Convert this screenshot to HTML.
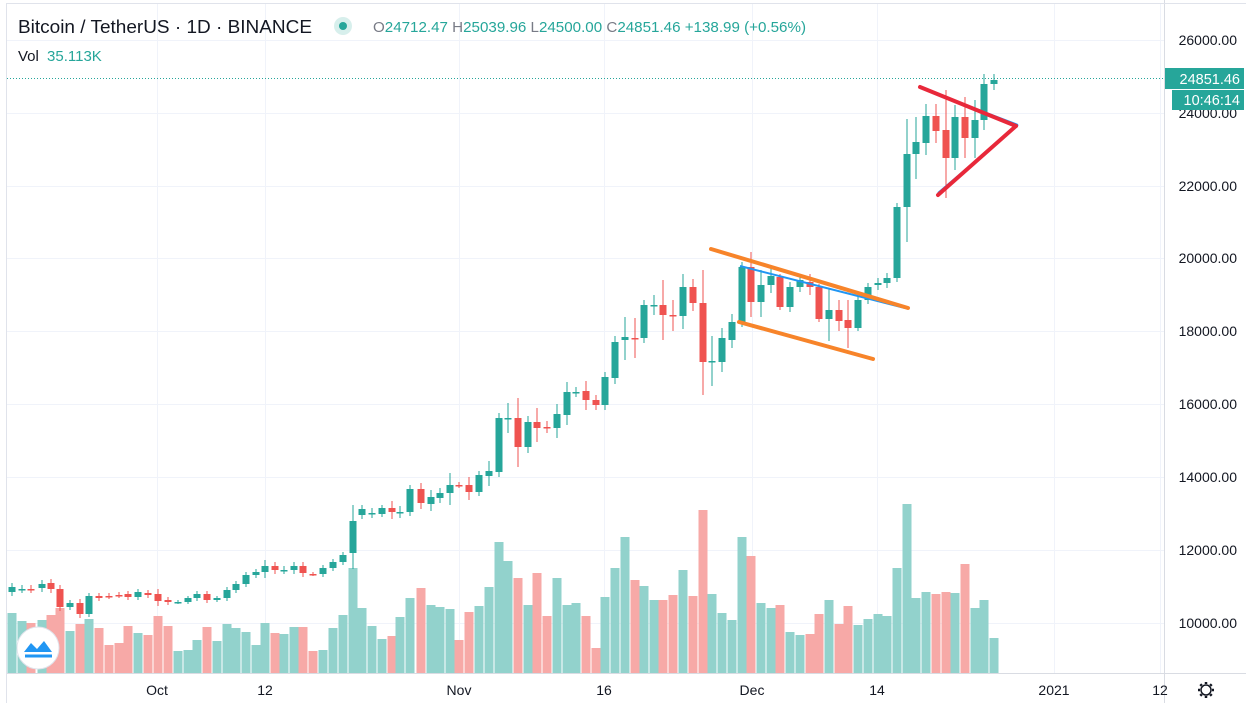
<!DOCTYPE html>
<html><head><meta charset="utf-8"><style>
body{margin:0;background:#fff;width:1246px;height:703px;overflow:hidden;font-family:"Liberation Sans","DejaVu Sans",sans-serif}
svg{position:absolute;left:0;top:0}
</style></head><body>
<svg id="s" width="1246" height="703" xmlns="http://www.w3.org/2000/svg">
<rect x="0" y="0" width="1246" height="703" fill="#fff"/>
<g id="grid" stroke="#f0f3fa" stroke-width="1"></g>
<g id="vol"></g>
<g id="cdl"></g>
<line x1="7" y1="78.5" x2="1164" y2="78.5" stroke="#26a69a" stroke-dasharray="1,2"/>
<line x1="1164.5" y1="0" x2="1164.5" y2="703" stroke="#d9dce3"/>
<line x1="7" y1="673.5" x2="1246" y2="673.5" stroke="#d9dce3"/>
<line x1="6.5" y1="3" x2="6.5" y2="703" stroke="#e0e3eb"/>
<line x1="6" y1="3.5" x2="1246" y2="3.5" stroke="#e0e3eb"/>
<!-- patterns -->
<line x1="740" y1="266" x2="905" y2="308" stroke="#2196f3" stroke-width="2"/>
<line x1="711" y1="249" x2="908" y2="308" stroke="#f7842a" stroke-width="4" stroke-linecap="round"/>
<line x1="739" y1="322" x2="873" y2="359" stroke="#f7842a" stroke-width="4" stroke-linecap="round"/>
<line x1="921" y1="88" x2="1018" y2="125" stroke="#2196f3" stroke-width="2"/>
<line x1="938" y1="193" x2="1018" y2="125" stroke="#2196f3" stroke-width="2"/>
<line x1="920" y1="87" x2="1016" y2="126" stroke="#e8283a" stroke-width="4" stroke-linecap="round"/>
<line x1="938" y1="195" x2="1016" y2="126" stroke="#e8283a" stroke-width="4" stroke-linecap="round"/>
<!-- header -->
<text x="18" y="33" font-size="18" fill="#131722" textLength="294" lengthAdjust="spacingAndGlyphs">Bitcoin / TetherUS · 1D · BINANCE</text>
<circle cx="343" cy="26" r="9" fill="#d7efec"/><circle cx="343" cy="26" r="4" fill="#26a69a"/>
<text x="373" y="32" font-size="15" fill="#26a69a" textLength="433" lengthAdjust="spacingAndGlyphs"><tspan fill="#787b86">O</tspan>24712.47 <tspan fill="#787b86">H</tspan>25039.96 <tspan fill="#787b86">L</tspan>24500.00 <tspan fill="#787b86">C</tspan>24851.46 +138.99 (+0.56%)</text>
<text x="18" y="61" font-size="15" fill="#131722">Vol <tspan fill="#26a69a" dx="4">35.113K</tspan></text>
<!-- right axis -->
<g font-size="14" fill="#131722" text-anchor="end" id="ax"></g>
<rect x="1165" y="68" width="79" height="21" fill="#26a69a"/>
<text x="1240" y="84" font-size="14.5" fill="#fff" text-anchor="end">24851.46</text>
<rect x="1172" y="90" width="72" height="20" fill="#26a69a"/>
<text x="1240" y="105" font-size="14.5" fill="#fff" text-anchor="end">10:46:14</text>
<!-- bottom axis -->
<g font-size="14" fill="#131722" text-anchor="middle">
<text x="157" y="695">Oct</text><text x="265" y="695">12</text><text x="459" y="695">Nov</text>
<text x="604" y="695">16</text><text x="752" y="695">Dec</text><text x="877" y="695">14</text>
<text x="1054" y="695">2021</text><text x="1160" y="695">12</text></g>
<g transform="translate(1206,690)" stroke="#131722" fill="none" stroke-width="1.5">
<circle r="5"/><g stroke-width="2.5"><line x1="0" y1="-8" x2="0" y2="-6"/><line x1="0" y1="6" x2="0" y2="8"/><line x1="-8" y1="0" x2="-6" y2="0"/><line x1="6" y1="0" x2="8" y2="0"/><line x1="-5.7" y1="-5.7" x2="-4.2" y2="-4.2"/><line x1="5.7" y1="5.7" x2="4.2" y2="4.2"/><line x1="-5.7" y1="5.7" x2="-4.2" y2="4.2"/><line x1="5.7" y1="-5.7" x2="4.2" y2="-4.2"/></g></g>
<!-- logo -->
<circle cx="38" cy="648" r="21" fill="#fff" stroke="#e0e3eb"/>
<path d="M24 652 L31 643 L37 649 L44 641 L52 652 Z" fill="#2196f3"/>
<path d="M25 656 L52 656" stroke="#2196f3" stroke-width="3"/>
</svg>
<script>
var ns="http://www.w3.org/2000/svg";
function el(p,t,a){var e=document.createElementNS(ns,t);for(var k in a)e.setAttribute(k,a[k]);p.appendChild(e);return e;}
var g=document.getElementById('grid');
[40,113,186,258,331,404,477,550,623].forEach(function(y){el(g,'line',{x1:7,y1:y+.5,x2:1164,y2:y+.5});});
[157,265,459,604,752,877,1054,1160].forEach(function(x){el(g,'line',{x1:x+.5,y1:4,x2:x+.5,y2:673});});
var ax=document.getElementById('ax');
var pr=[26000,24000,22000,20000,18000,16000,14000,12000,10000];
pr.forEach(function(p,i){var y=[40,113,186,258,331,404,477,550,623][i];var t=el(ax,'text',{x:1237,y:y+5});t.textContent=p.toFixed(2);});
var d=[
[12,592,587,4,613],[22,589,589,4,621],[31,589,589,4,623],[42,588,584,4,620],[51,583,589,4,615],[60,589,607,4,608],[70,607,603,3,631],[80,603,614,4,624],[89,614,596,3,619],[99,596,598,3,628],[109,596,596,3,645],[119,595,595,3,643],[128,594,597,3,626],[138,597,592,3,633],[148,593,595,3,635],[158,594,601,5,616],[168,600,602,3,626],[178,602,602,2,651],[188,602,598,2,650],[197,598,594,3,640],[207,594,600,3,627],[217,600,598,2,641],[227,598,590,3,624],[236,590,584,3,628],[246,584,575,3,632],[256,575,572,3,645],[265,572,566,6,623],[275,566,570,4,633],[284,570,570,4,634],[294,570,566,4,627],[303,566,573,4,627],[313,574,574,2,651],[323,574,568,3,650],[333,568,562,3,628],[343,562,555,3,615],[353,553,521,16,568],
[362,515,509,4,608],[372,513,513,5,626],[382,514,508,3,639],[392,508,512,7,636],[400,512,512,6,617],[410,512,489,4,598],[421,489,503,6,588],[431,504,497,7,605],[440,498,493,5,607],[450,493,485,12,609],[459,485,485,3,640],[469,485,492,8,612],[479,492,475,4,606],[489,476,471,10,587],[499,472,418,5,542],[508,418,418,15,561],[518,418,447,20,578],[528,447,422,6,605],[537,422,428,14,573],[547,427,427,6,616],[557,428,414,10,578],[567,415,392,10,605],[576,392,392,5,603],[586,391,400,10,616],[596,400,405,5,648],[605,405,377,5,597],[615,378,342,6,568],[625,340,337,20,537],[635,338,338,20,580],[644,338,305,5,586],[654,305,305,10,600],[663,305,315,25,600],[673,315,316,15,595],[683,316,287,13,570],[693,287,303,8,596],[703,303,362,33,510],[712,361,361,25,594],[722,362,338,10,613],[732,340,322,8,620],[742,322,267,5,537],[751,267,302,15,556],[761,302,285,15,603],[771,285,276,8,608],[780,277,307,3,605],[790,307,287,5,632],[800,287,280,5,635],[810,282,287,8,634],[819,287,319,3,614],[829,319,310,22,600],[839,310,321,10,624],[848,320,328,20,606],[858,328,300,3,625],[868,300,287,4,619],[878,285,283,5,614],[887,283,278,5,616],[897,278,207,4,568],[907,207,154,35,504],[916,154,142,25,598],[926,143,116,12,592],[936,116,131,12,594],[946,130,158,40,592],[955,158,117,12,593],[965,117,138,20,564],[975,138,120,20,608],[984,120,84,10,600],[994,84,80,6,638]];
var V=document.getElementById('vol'),C=document.getElementById('cdl');
d.forEach(function(c){
 var col=c[2]<c[1]?'#26a69a':(c[2]>c[1]?'#ef5350':'#26a69a');
 if(c[1]==c[2]) col=(c[0]%2?'#ef5350':'#26a69a');
 var vc=col=='#26a69a'?'#92d2cc':'#f7a9a7';
 el(V,'rect',{x:c[0]-4.5,y:c[4],width:9,height:673-c[4],fill:vc});
 var top=Math.min(c[1],c[2]),bot=Math.max(c[1],c[2]);
 el(C,'line',{x1:c[0],y1:top-c[3],x2:c[0],y2:bot+c[3],stroke:col,'stroke-width':1});
 el(C,'rect',{x:c[0]-3.5,y:top,width:7,height:Math.max(bot-top,1.5),fill:col});
});
</script>
</body></html>
